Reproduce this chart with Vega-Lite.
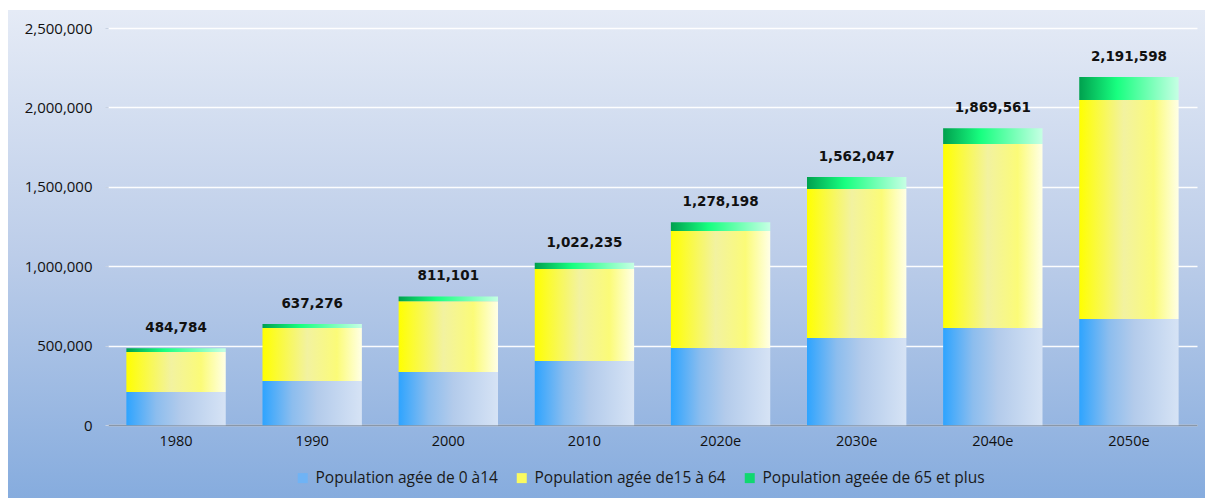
{
  "$schema": "https://vega.github.io/schema/vega-lite/v6.json",
  "width": 1197,
  "height": 488,
  "padding": {"left": 8, "top": 10, "right": 0, "bottom": 0},
  "autosize": {"type": "none"},
  "background": "#ffffff",
  "config": {
    "view": {
      "stroke": null,
      "fill": {"gradient": "linear", "x1": 0, "y1": 0, "x2": 0, "y2": 1,
        "stops": [{"offset": 0, "color": "#e5ebf6"}, {"offset": 0.5, "color": "#bccde9"}, {"offset": 1, "color": "#86acde"}]}
    },
    "font": "DejaVu Sans"
  },
  "datasets": {
    "pop": [
      {"year": "1980", "group": "Population agée de 0 à14", "k": 1, "value": 210000},
      {"year": "1980", "group": "Population agée de15 à 64", "k": 2, "value": 251000},
      {"year": "1980", "group": "Population ageée de 65 et plus", "k": 3, "value": 23784},
      {"year": "1990", "group": "Population agée de 0 à14", "k": 1, "value": 279000},
      {"year": "1990", "group": "Population agée de15 à 64", "k": 2, "value": 333000},
      {"year": "1990", "group": "Population ageée de 65 et plus", "k": 3, "value": 25276},
      {"year": "2000", "group": "Population agée de 0 à14", "k": 1, "value": 335000},
      {"year": "2000", "group": "Population agée de15 à 64", "k": 2, "value": 445000},
      {"year": "2000", "group": "Population ageée de 65 et plus", "k": 3, "value": 31101},
      {"year": "2010", "group": "Population agée de 0 à14", "k": 1, "value": 405000},
      {"year": "2010", "group": "Population agée de15 à 64", "k": 2, "value": 579000},
      {"year": "2010", "group": "Population ageée de 65 et plus", "k": 3, "value": 38235},
      {"year": "2020e", "group": "Population agée de 0 à14", "k": 1, "value": 486000},
      {"year": "2020e", "group": "Population agée de15 à 64", "k": 2, "value": 737000},
      {"year": "2020e", "group": "Population ageée de 65 et plus", "k": 3, "value": 55198},
      {"year": "2030e", "group": "Population agée de 0 à14", "k": 1, "value": 549000},
      {"year": "2030e", "group": "Population agée de15 à 64", "k": 2, "value": 938000},
      {"year": "2030e", "group": "Population ageée de 65 et plus", "k": 3, "value": 75047},
      {"year": "2040e", "group": "Population agée de 0 à14", "k": 1, "value": 612000},
      {"year": "2040e", "group": "Population agée de15 à 64", "k": 2, "value": 1158000},
      {"year": "2040e", "group": "Population ageée de 65 et plus", "k": 3, "value": 99561},
      {"year": "2050e", "group": "Population agée de 0 à14", "k": 1, "value": 669000},
      {"year": "2050e", "group": "Population agée de15 à 64", "k": 2, "value": 1378000},
      {"year": "2050e", "group": "Population ageée de 65 et plus", "k": 3, "value": 144598}
    ],
    "totals": [
      {"year": "1980", "total": 484784},
      {"year": "1990", "total": 637276},
      {"year": "2000", "total": 811101},
      {"year": "2010", "total": 1022235},
      {"year": "2020e", "total": 1278198},
      {"year": "2030e", "total": 1562047},
      {"year": "2040e", "total": 1869561},
      {"year": "2050e", "total": 2191598}
    ]
  },
  "layer": [
    {
      "data": {"name": "pop"},
      "mark": {"type": "bar"},
      "encoding": {
        "x": {
          "field": "year", "type": "nominal", "sort": null,
          "scale": {"range": [100, 1189], "paddingInner": 0.27, "paddingOuter": 0.135},
          "axis": {
            "title": null, "orient": "bottom", "offset": -73, "labelAngle": 0,
            "ticks": false, "domainColor": "#8a97a8", "domainWidth": 1.5,
            "labelFont": "Open Sans", "labelFontSize": 14.5, "labelColor": "#111111", "labelPadding": 9
          }
        },
        "y": {
          "field": "value", "type": "quantitative", "stack": "zero",
          "scale": {"domain": [0, 2500000], "range": [415.3, 18], "nice": false, "zero": true},
          "axis": {
            "title": null, "orient": "left", "offset": -100, "domain": false,
            "values": [0, 500000, 1000000, 1500000, 2000000, 2500000],
            "format": ",.0f", "grid": true, "gridColor": "#ffffff", "gridWidth": 1.3, "gridOpacity": 0.95,
            "ticks": true, "tickSize": 3, "tickColor": "#c8d2e2",
            "labelFont": "Open Sans", "labelFontSize": 15, "labelColor": "#111111", "labelPadding": 13
          }
        },
        "order": {"field": "k", "type": "quantitative"},
        "fill": {
          "field": "group", "type": "nominal",
          "scale": {
            "domain": ["Population agée de 0 à14", "Population agée de15 à 64", "Population ageée de 65 et plus"],
            "range": ["#6fb3f5", "#fafa60", "#10d870"]
          },
          "legend": {
            "title": null, "orient": "none", "direction": "horizontal",
            "legendX": 287, "legendY": 460,
            "symbolType": "square", "symbolSize": 100, "symbolStrokeWidth": 0,
            "labelFont": "Open Sans", "labelFontSize": 15.5, "labelColor": "#1a1a1a",
            "columnPadding": 16, "labelOffset": 5, "labelLimit": 400,
            "encode": {
              "symbols": {
                "update": {
                  "fill": [
                    {"test": "datum.value === 'Population agée de 0 à14'", "value": {"gradient": "linear", "x1": 0, "y1": 0, "x2": 1, "y2": 0, "stops": [{"offset": 0, "color": "#2ea4ff"}, {"offset": 0.4, "color": "#9cc3ee"}, {"offset": 1, "color": "#dfe9f7"}]}},
                    {"test": "datum.value === 'Population agée de15 à 64'", "value": {"gradient": "linear", "x1": 0, "y1": 0, "x2": 1, "y2": 0, "stops": [{"offset": 0, "color": "#ffff00"}, {"offset": 0.5, "color": "#f4f4a0"}, {"offset": 1, "color": "#ffffe6"}]}},
                    {"value": {"gradient": "linear", "x1": 0, "y1": 0, "x2": 1, "y2": 0, "stops": [{"offset": 0, "color": "#00a04e"}, {"offset": 0.4, "color": "#18ff80"}, {"offset": 1, "color": "#c6ffe4"}]}}
                  ]
                }
              }
            }
          },
          "condition": [
            {"test": "datum.k === 1", "value": {"gradient": "linear", "x1": 0, "y1": 0, "x2": 1, "y2": 0,
                "stops": [{"offset": 0, "color": "#2ea4ff"}, {"offset": 0.3, "color": "#8cbdee"}, {"offset": 0.55, "color": "#b3cbeb"}, {"offset": 1, "color": "#d6e3f5"}]}},
            {"test": "datum.k === 2", "value": {"gradient": "linear", "x1": 0, "y1": 0, "x2": 1, "y2": 0,
                "stops": [{"offset": 0, "color": "#ffff00"}, {"offset": 0.45, "color": "#f2f2a0"}, {"offset": 0.75, "color": "#fbfb78"}, {"offset": 1, "color": "#ffffe6"}]}},
            {"test": "datum.k === 3", "value": {"gradient": "linear", "x1": 0, "y1": 0, "x2": 1, "y2": 0,
                "stops": [{"offset": 0, "color": "#00a04e"}, {"offset": 0.38, "color": "#18ff80"}, {"offset": 1, "color": "#c6ffe4"}]}}
          ]
        }
      }
    },
    {
      "data": {"name": "totals"},
      "mark": {"type": "text", "baseline": "middle", "dy": -20, "fontWeight": "bold", "fontSize": 13.5, "font": "DejaVu Sans", "color": "#111111"},
      "encoding": {
        "x": {"field": "year", "type": "nominal", "sort": null},
        "y": {"field": "total", "type": "quantitative"},
        "text": {"field": "total", "type": "quantitative", "format": ","}
      }
    }
  ]
}
